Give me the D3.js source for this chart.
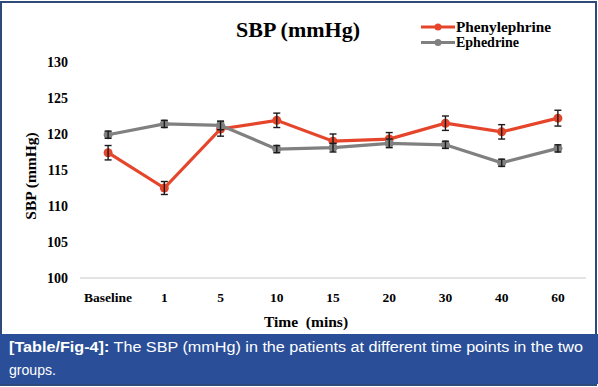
<!DOCTYPE html>
<html>
<head>
<meta charset="utf-8">
<script src="https://cdn.jsdelivr.net/npm/d3@7"></script>
<style>
  body { margin: 0; background: #fff; }
  svg { display: block; }
</style>
</head>
<body>
<script>
// time points and series (mean, error)
const times = ["Baseline", "1", "5", "10", "15", "20", "30", "40", "60"];
const pheMean = [117.4, 112.5, 120.7, 121.9, 119.0, 119.3, 121.5, 120.3, 122.2];
const pheErr  = [1.0, 0.9, 1.0, 1.0, 1.0, 0.9, 1.0, 1.0, 1.1];
const ephMean = [119.9, 121.4, 121.2, 117.9, 118.1, 118.7, 118.5, 116.0, 118.0];
const ephErr  = [0.5, 0.5, 0.6, 0.5, 0.6, 0.6, 0.5, 0.5, 0.5];
const yTicks = [100, 105, 110, 115, 120, 125, 130];

const series = [
  {name: "Phenylephrine", color: "#e5462b", mean: pheMean, err: pheErr},
  {name: "Ephedrine", color: "#808080", mean: ephMean, err: ephErr}
];

const width = 598, height = 387;
const serif = "'Liberation Serif', 'Times New Roman', serif";

const svg = d3.select("body").append("svg")
  .attr("width", width)
  .attr("height", height);

// frame
svg.append("rect")
  .attr("x", 1).attr("y", 2)
  .attr("width", 595).attr("height", 383)
  .attr("fill", "#fff")
  .attr("stroke", "#2e4a78")
  .attr("stroke-width", 2);

const x = d3.scaleBand().domain(times).range([80, 586]);
const y = d3.scaleLinear().domain([100, 130]).range([278, 62]);

// x axis line
svg.append("line")
  .attr("x1", 80).attr("x2", 586)
  .attr("y1", y(100)).attr("y2", y(100))
  .attr("stroke", "#c8c8c8").attr("stroke-width", 1);

// y tick labels
svg.append("g").selectAll("text")
  .data(yTicks)
  .join("text")
  .attr("x", 68)
  .attr("y", d => y(d))
  .attr("dy", "0.35em")
  .attr("text-anchor", "end")
  .attr("font-family", serif)
  .attr("font-weight", "bold")
  .attr("font-size", 14)
  .text(d => d);

// x tick labels
svg.append("g").selectAll("text")
  .data(times)
  .join("text")
  .attr("x", d => x(d) + x.bandwidth() / 2)
  .attr("y", 297)
  .attr("dy", "0.35em")
  .attr("text-anchor", "middle")
  .attr("font-family", serif)
  .attr("font-weight", "bold")
  .attr("font-size", 13.5)
  .text(d => d);

// axis titles
svg.append("text")
  .attr("x", 306).attr("y", 322)
  .attr("dy", "0.35em")
  .attr("text-anchor", "middle")
  .attr("font-family", serif)
  .attr("font-weight", "bold")
  .attr("font-size", 15.5)
  .attr("xml:space", "preserve")
  .text("Time  (mins)");

svg.append("text")
  .attr("transform", "translate(31,176) rotate(-90)")
  .attr("dy", "0.35em")
  .attr("text-anchor", "middle")
  .attr("font-family", serif)
  .attr("font-weight", "bold")
  .attr("font-size", 15.5)
  .text("SBP (mmHg)");

// title
svg.append("text")
  .attr("x", 298).attr("y", 37)
  .attr("text-anchor", "middle")
  .attr("font-family", serif)
  .attr("font-weight", "bold")
  .attr("font-size", 22)
  .text("SBP (mmHg)");

// lines
const cx = (d, i) => x(times[i]) + x.bandwidth() / 2;
const line = d3.line().x(cx).y(d => y(d));

series.forEach(s => {
  const g = svg.append("g");
  g.append("path")
    .datum(s.mean)
    .attr("d", line)
    .attr("fill", "none")
    .attr("stroke", s.color)
    .attr("stroke-width", 3.2);
  g.selectAll("circle")
    .data(s.mean)
    .join("circle")
    .attr("cx", cx)
    .attr("cy", d => y(d))
    .attr("r", 4.5)
    .attr("fill", s.color);
  const eb = g.selectAll("g.eb")
    .data(s.mean)
    .join("g")
    .attr("class", "eb")
    .attr("stroke", "#1a1a1a")
    .attr("stroke-width", 1.4);
  eb.append("line")
    .attr("x1", cx).attr("x2", cx)
    .attr("y1", (d, i) => y(d + s.err[i]))
    .attr("y2", (d, i) => y(d - s.err[i]));
  eb.append("line")
    .attr("x1", (d, i) => cx(d, i) - 3.5).attr("x2", (d, i) => cx(d, i) + 3.5)
    .attr("y1", (d, i) => y(d + s.err[i]))
    .attr("y2", (d, i) => y(d + s.err[i]));
  eb.append("line")
    .attr("x1", (d, i) => cx(d, i) - 3.5).attr("x2", (d, i) => cx(d, i) + 3.5)
    .attr("y1", (d, i) => y(d - s.err[i]))
    .attr("y2", (d, i) => y(d - s.err[i]));
});

// legend
const leg = svg.append("g").selectAll("g")
  .data(series)
  .join("g")
  .attr("transform", (d, i) => `translate(421,${27 + i * 15.5})`);
leg.append("line")
  .attr("x1", 0).attr("x2", 34)
  .attr("stroke", d => d.color)
  .attr("stroke-width", 3);
leg.append("circle")
  .attr("cx", 17).attr("r", 3.5)
  .attr("fill", d => d.color);
leg.append("text")
  .attr("x", 35)
  .attr("dy", "0.35em")
  .attr("font-family", serif)
  .attr("font-weight", "bold")
  .attr("font-size", 14)
  .attr("textLength", d => d.name === "Phenylephrine" ? 95 : 63)
  .attr("lengthAdjust", "spacingAndGlyphs")
  .text(d => d.name);

// caption band
svg.append("rect")
  .attr("x", 0).attr("y", 334)
  .attr("width", 598).attr("height", 50)
  .attr("fill", "#2a4f98");

const sans = "'Liberation Sans', Arial, sans-serif";
const cap = svg.append("text")
  .attr("x", 9).attr("y", 352)
  .attr("font-family", sans)
  .attr("font-size", 15.5)
  .attr("fill", "#fff")
  .attr("textLength", 574)
  .attr("lengthAdjust", "spacingAndGlyphs");
cap.append("tspan").attr("font-weight", "bold").text("[Table/Fig-4]:");
cap.append("tspan").text(" The SBP (mmHg) in the patients at different time points in the two");

svg.append("text")
  .attr("x", 9).attr("y", 375)
  .attr("font-family", sans)
  .attr("font-size", 15.5)
  .attr("fill", "#fff")
  .attr("textLength", 47)
  .attr("lengthAdjust", "spacingAndGlyphs")
  .text("groups.");
</script>
</body>
</html>
